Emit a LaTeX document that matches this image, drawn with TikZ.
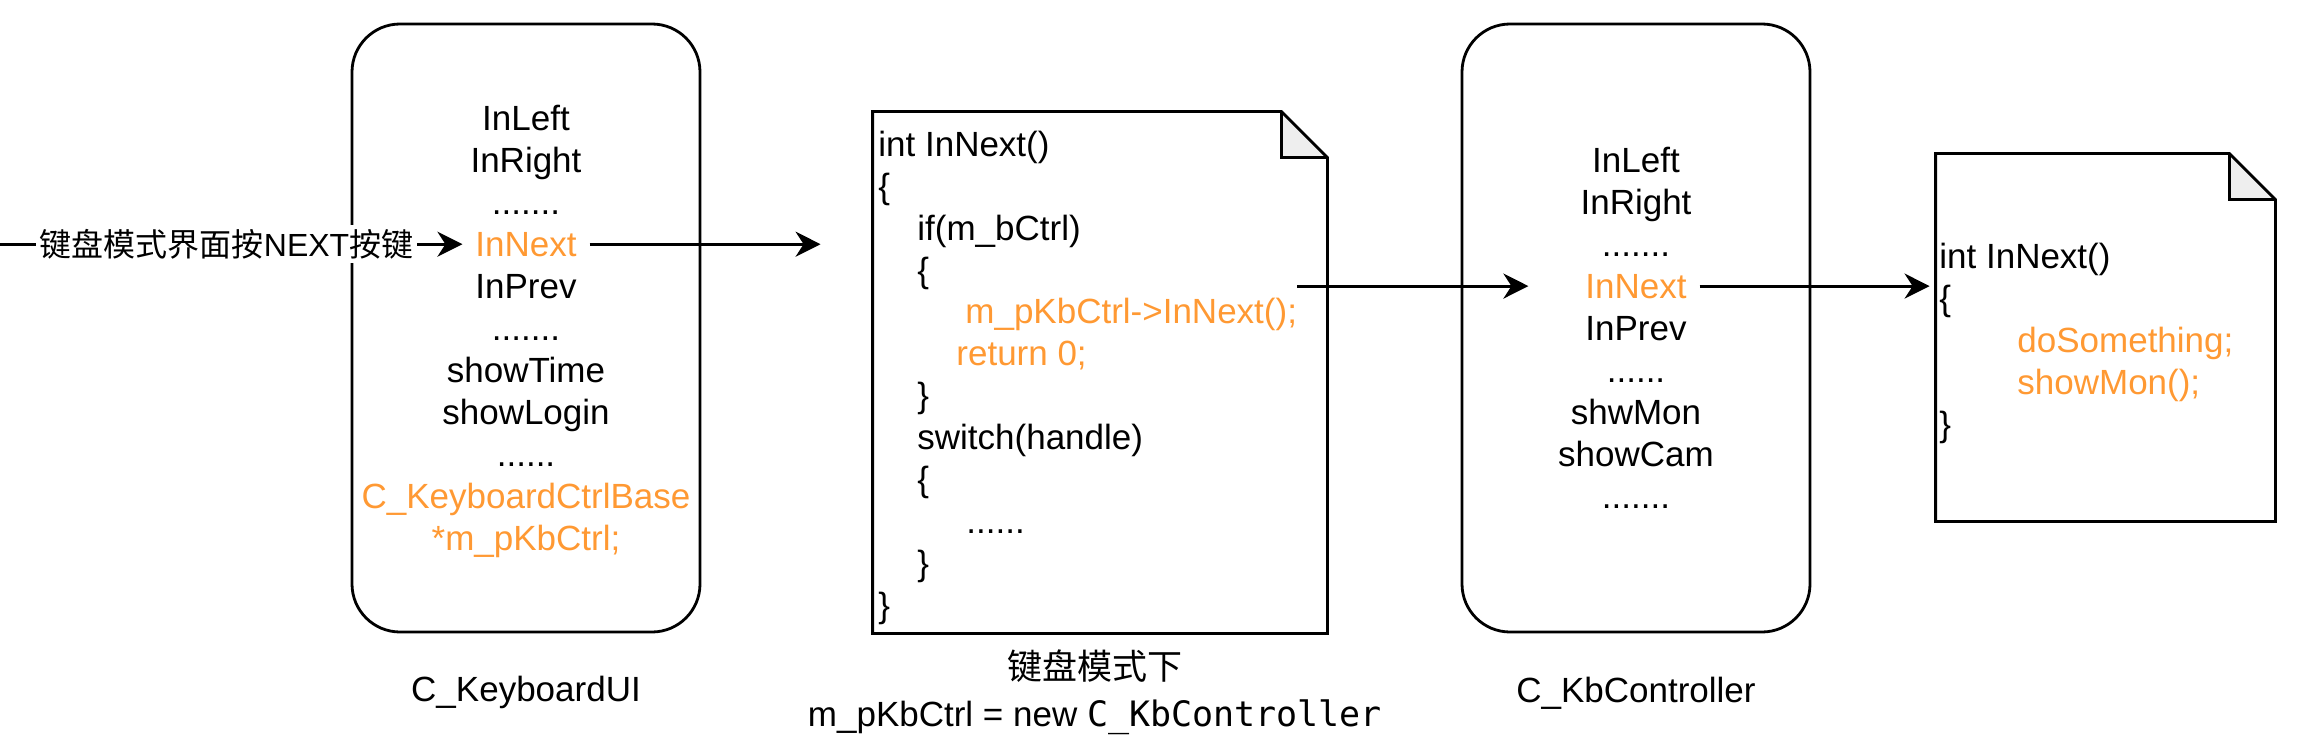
\documentclass[tikz,border=0pt]{standalone}
\usepackage{fontspec}
\setmainfont{Liberation Sans}
\newfontfamily\cjk{Noto Sans CJK SC}
\newfontfamily\mono{DejaVu Sans Mono}
\usetikzlibrary{positioning,arrows.meta,calc}
\definecolor{hl}{HTML}{FF9933}
\definecolor{fold}{HTML}{EEEEEE}

\begin{document}
\begin{tikzpicture}[x=0.5pt, y=-0.5pt,
  txt/.style={font=\fontsize{17.5}{21}\selectfont},
  klass/.style={draw, line width=1.4pt, rounded corners=24pt, minimum width=174pt, minimum height=304pt},
  member/.style={txt, inner sep=0, outer sep=6.5pt, text height=12.5pt, text depth=0pt},
  code/.style={txt, inner sep=0, anchor=west, text height=12.5pt, text depth=0pt},
  page/.style={inner sep=0},
  caption/.style={txt, inner sep=0, text height=12.5pt, text depth=0pt},
  keylbl/.style={fill=white, inner sep=2pt, font=\fontsize{16}{19}\selectfont},
  conn/.style={line width=1.4pt, -{Stealth[length=12.5pt,width=12.5pt,inset=4pt]}}]
\useasboundingbox (0,0) rectangle (2320,738);
\newcommand{\sevendots}{.......}
\newcommand{\sixdots}{......}
\newcommand{\members}[4]{% prefix, x, y of first line, lines
  \foreach \entry [count=\i] in {#4} {
    \pgfmathsetmacro{\y}{#3+41.9*(\i-1)}
    \node[member] (#1\i) at (#2,\y) {\entry};
  }}
\newcommand{\codelines}[4]{% prefix, x, y of first line, indent/text
  \foreach \dx/\entry [count=\i] in {#4} {
    \pgfmathsetmacro{\y}{#3+41.9*(\i-1)}
    \node[code] (#1\i) at (#2+\dx,\y) {\entry};
  }}
\newcommand{\dogear}[1]{% folded page round node #1
  \fill[fold] ([xshift=-23pt]#1.north east) -- ([yshift=-23pt]#1.north east)
    -- ([xshift=-23pt,yshift=-23pt]#1.north east) -- cycle;
  \draw[line width=1.4pt] (#1.north west) -- ([xshift=-23pt]#1.north east)
    -- ([yshift=-23pt]#1.north east) -- (#1.south east) -- (#1.south west) -- cycle
    ([xshift=-23pt]#1.north east) -- ([xshift=-23pt,yshift=-23pt]#1.north east)
    -- ([yshift=-23pt]#1.north east);}

% classes
\node[klass] (ui) at (526,328) {};
\node[klass] (kb) at (1636,328) {};
\members{ui}{526}{118.5}{InLeft, InRight, \sevendots, {\color{hl}InNext}, InPrev, \sevendots,
  showTime, showLogin, \sixdots, {\color{hl}C\_KeyboardCtrlBase}, {\color{hl}*m\_pKbCtrl;}}
\members{kb}{1636}{160.4}{InLeft, InRight, \sevendots, {\color{hl}InNext}, InPrev, \sixdots,
  shwMon, showCam, \sevendots}
\node[caption] (uiname) at (526,689) {C\_KeyboardUI};
\node[caption] (kbname) at (1636,690) {C\_KbController};

% code pages
\node[page, minimum width=227pt, minimum height=260.5pt] (call) at (1100,372.5) {};
\node[page, minimum width=169.5pt, minimum height=183.5pt] (impl) at (2105.5,337.5) {};
\dogear{call}
\dogear{impl}
\codelines{call}{878}{143.8}{0/int InNext(), 0/\{, 39/if(m\_bCtrl), 39/\{,
  87/{\color{hl}m\_pKbCtrl->InNext();}, 78/{\color{hl}return 0;}, 39/\}, 39/switch(handle),
  39/\{, 88/\sixdots, 39/\}, 0/\}}
\codelines{impl}{1939}{256}{0/int InNext(), 0/\{, 78/{\color{hl}doSomething;},
  78/{\color{hl}showMon();}, 0/\}}
\node[caption] (mode) at (1095,667) {\cjk 键盘模式下};
\node[caption] (assign) at (1095,714) {m\_pKbCtrl = new {\mono C\_KbController}};

% calls
\coordinate (key) at (0,244.2);
\coordinate (hook) at (call5.east |- kb4);
\draw[conn] (key) -- node[keylbl, pos=0.49] (keytext) {{\cjk 键盘模式界面按}NEXT{\cjk 按键}} (ui4.west);
\draw[conn, shorten >=26pt] (ui4.east) -- (ui4 -| call.west);
\draw[conn, shorten >=22pt] (hook) -- (kb4.west);
\draw[conn, shorten >=3pt] (kb4.east) -- (kb4 -| impl.west);
\end{tikzpicture}
\end{document}
